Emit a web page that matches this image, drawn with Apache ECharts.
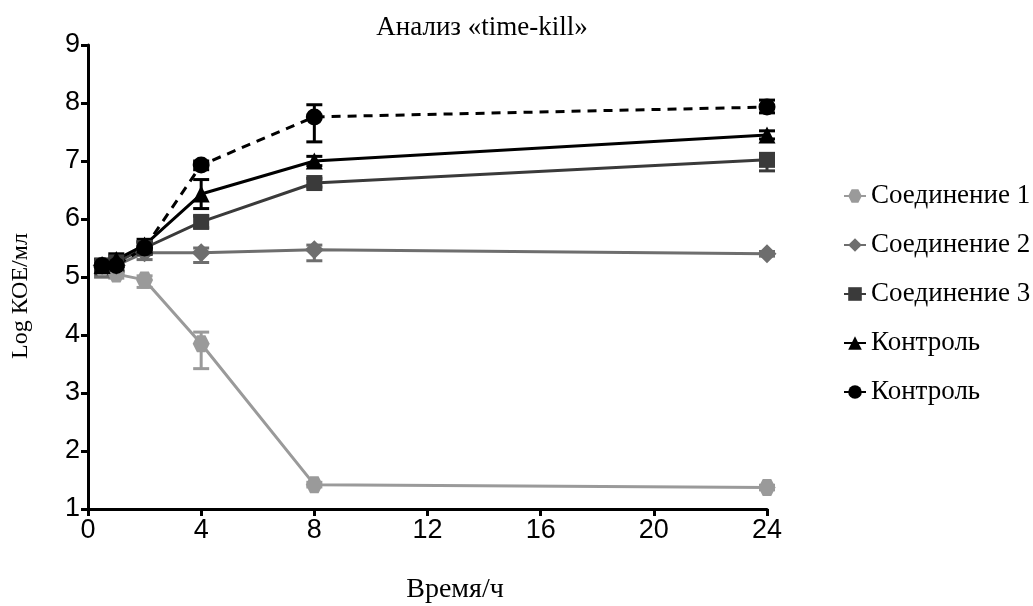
<!DOCTYPE html>
<html><head><meta charset="utf-8">
<script src="https://cdn.jsdelivr.net/npm/echarts@6/dist/echarts.min.js"></script>
<style>html,body{margin:0;padding:0;background:#fff}#c{width:1033px;height:606px}</style>
</head><body><div id="c"></div>
<script>
const times = [0.5, 1, 2, 4, 8, 24];
const seriesNames = ['Соединение 1', 'Соединение 2', 'Соединение 3', 'Контроль', 'Контроль '];
const comp1 = [5.17, 5.05, 4.95, 3.85, 1.42, 1.37];
const comp2 = [5.2, 5.2, 5.42, 5.42, 5.47, 5.4];
const comp3 = [5.2, 5.25, 5.5, 5.95, 6.62, 7.02];
const ctrlTri = [5.2, 5.3, 5.55, 6.43, 7.0, 7.45];
const ctrlCirc = [5.2, 5.2, 5.5, 6.93, 7.76, 7.93];
const comp1Err = [[5.0, 5.25], [4.98, 5.1], [4.82, 5.02], [3.42, 4.05], [1.38, 1.46], [1.33, 1.41]];
const comp2Err = [[5.0, 5.3], [5.05, 5.3], [5.3, 5.5], [5.25, 5.5], [5.28, 5.55], [5.36, 5.44]];
const comp3Err = [[5.05, 5.3], [5.1, 5.35], [5.4, 5.6], [5.85, 6.05], [6.55, 6.7], [6.83, 7.1]];
const ctrlTriErr = [[5.1, 5.3], [5.2, 5.4], [5.45, 5.65], [6.18, 6.68], [6.92, 7.08], [7.38, 7.52]];
const ctrlCircErr = [[5.1, 5.3], [5.1, 5.3], [5.4, 5.6], [6.85, 7.0], [7.33, 7.97], [7.83, 8.05]];
const xTicks = [0, 4, 8, 12, 16, 20, 24];
const yTicks = [1, 2, 3, 4, 5, 6, 7, 8, 9];
const titleText = 'Анализ «time-kill»';
const xName = 'Время/ч';
const yName = 'Log КОЕ/мл';

const hexagon = 'path://M-10,0 L-5,-8.66 L5,-8.66 L10,0 L5,8.66 L-5,8.66 Z';
const colors = ['#9a9a9a', '#6e6e6e', '#3a3a3a', '#000000', '#000000'];
const symbols = [hexagon, 'diamond', 'rect', 'triangle', 'circle'];
const sizes = [17, 19, 16, 17, 17];
const values = [comp1, comp2, comp3, ctrlTri, ctrlCirc];
const errs = [comp1Err, comp2Err, comp3Err, ctrlTriErr, ctrlCircErr];

const series = [];
values.forEach((vals, i) => {
  series.push({
    type: 'custom', name: seriesNames[i] + '_err', silent: true, z: 1,
    data: times.map((t, k) => [t, errs[i][k][0], errs[i][k][1]]),
    renderItem: function (params, api) {
      const lo = api.coord([api.value(0), api.value(1)]);
      const hi = api.coord([api.value(0), api.value(2)]);
      const w = 8;
      const st = { stroke: colors[i], lineWidth: 3 };
      return { type: 'group', children: [
        { type: 'line', shape: { x1: lo[0], y1: lo[1], x2: hi[0], y2: hi[1] }, style: st },
        { type: 'line', shape: { x1: lo[0] - w, y1: lo[1], x2: lo[0] + w, y2: lo[1] }, style: st },
        { type: 'line', shape: { x1: hi[0] - w, y1: hi[1], x2: hi[0] + w, y2: hi[1] }, style: st }
      ]};
    }
  });
  series.push({
    type: 'line', name: seriesNames[i], z: 3,
    data: times.map((t, k) => [t, vals[k]]),
    symbol: symbols[i], symbolSize: sizes[i],
    lineStyle: { color: colors[i], width: 3, type: i === 4 ? [9, 7] : 'solid' },
    itemStyle: { color: colors[i] },
    animation: false
  });
});

const serif = { fontFamily: 'Liberation Serif', fill: '#000' };
const chart = echarts.init(document.getElementById('c'));
chart.setOption({
  animation: false,
  graphic: [
    { type: 'text', x: 482, y: 28, style: Object.assign({ text: titleText, fontSize: 27, textAlign: 'center', textVerticalAlign: 'middle' }, serif) },
    { type: 'text', x: 455, y: 590, style: Object.assign({ text: xName, fontSize: 28, textAlign: 'center', textVerticalAlign: 'middle' }, serif) },
    { type: 'text', x: 21, y: 296, rotation: Math.PI / 2, style: Object.assign({ text: yName, fontSize: 24, textAlign: 'center', textVerticalAlign: 'middle' }, serif) }
  ],
  grid: { left: 88, right: 266, top: 45, bottom: 97 },
  legend: {
    data: seriesNames, orient: 'vertical', left: 838, top: 176, itemGap: 19,
    itemWidth: 22, itemHeight: 17,
    textStyle: { fontFamily: 'Liberation Serif', fontSize: 27, lineHeight: 30, color: '#000' }
  },
  xAxis: {
    type: 'value', min: 0, max: 24, interval: 4,
    axisLine: { lineStyle: { color: '#000', width: 3 } },
    axisTick: { lineStyle: { color: '#000', width: 3 }, length: 7 },
    axisLabel: { fontFamily: 'Liberation Sans', fontSize: 27, color: '#000', margin: 8 },
    splitLine: { show: false }
  },
  yAxis: {
    type: 'value', min: 1, max: 9, interval: 1,
    axisLine: { show: true, lineStyle: { color: '#000', width: 3 } },
    axisTick: { show: true, lineStyle: { color: '#000', width: 3 }, length: 7 },
    axisLabel: { fontFamily: 'Liberation Sans', fontSize: 27, color: '#000', margin: 8 },
    splitLine: { show: false }
  },
  series: series
});
</script></body></html>
